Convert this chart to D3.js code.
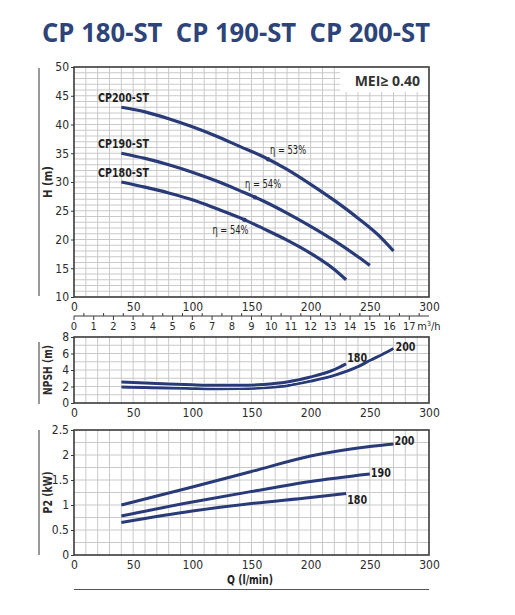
<!DOCTYPE html>
<html>
<head>
<meta charset="utf-8">
<script src="https://cdn.jsdelivr.net/npm/d3@7"></script>
<style>
  body { margin: 0; background: #fff; }
  text { font-family: "Liberation Sans Narrow", "DejaVu Sans Condensed", "DejaVu Sans", sans-serif; font-stretch: condensed; }
</style>
</head>
<body>
<div id="chart"></div>
<script>
'use strict'

// Data.
const qTicks = [0, 50, 100, 150, 200, 250, 300];
const hTicks = [10, 15, 20, 25, 30, 35, 40, 45, 50];
const npshTicks = [0, 2, 4, 6, 8];
const p2Ticks = [0, 0.5, 1, 1.5, 2, 2.5];
const m3hTicks = d3.range(0, 18);

const hQ180 = [40, 60, 80, 100, 120, 140, 160, 180, 200, 220, 230];
const hVal180 = [30.0, 29.1, 28.1, 26.9, 25.4, 23.8, 21.9, 19.9, 17.6, 14.8, 13.0];
const hQ190 = [40, 60, 80, 100, 120, 140, 160, 180, 200, 220, 240, 250];
const hVal190 = [35.0, 34.1, 33.0, 31.7, 30.2, 28.5, 26.7, 24.6, 22.3, 19.8, 17.0, 15.5];
const hQ200 = [40, 60, 80, 100, 120, 140, 160, 180, 200, 220, 240, 260, 270];
const hVal200 = [43.0, 42.2, 41.0, 39.6, 38.0, 36.2, 34.4, 32.2, 29.6, 26.8, 23.7, 20.2, 18.0];

// Efficiency points marked on the curves (180, 190, 200).
const etaLabels = ['η = 54%', 'η = 54%', 'η = 53%'];
const etaQ = [144, 153, 164];

const npshQ180 = [40, 60, 80, 100, 120, 140, 160, 180, 200, 220, 230];
const npshVal180 = [2.55, 2.42, 2.3, 2.2, 2.14, 2.14, 2.25, 2.55, 3.15, 4.05, 4.75];
const npshQ200 = [40, 60, 80, 100, 120, 140, 160, 180, 200, 220, 240, 250, 260, 270];
const npshVal200 = [1.94, 1.88, 1.82, 1.77, 1.74, 1.75, 1.85, 2.1, 2.65, 3.35, 4.4, 5.15, 5.85, 6.6];

const p2Q180 = [40, 100, 150, 200, 230];
const p2Val180 = [0.65, 0.88, 1.03, 1.15, 1.23];
const p2Q190 = [40, 100, 150, 200, 250];
const p2Val190 = [0.78, 1.06, 1.27, 1.47, 1.62];
const p2Q200 = [40, 100, 150, 200, 250, 270];
const p2Val200 = [1.0, 1.36, 1.67, 1.98, 2.17, 2.22];

const models = ['CP200-ST', 'CP190-ST', 'CP180-ST'];
const shortNames = ['180', '190', '200'];

const width = 515, height = 615;
const navy = '#293a78', grid = '#c9c9c9', frame = '#3a3a3a', ink = '#2b2b2b';

const svg = d3.select('#chart').append('svg')
    .attr('width', width)
    .attr('height', height);

// Squeeze a text to a given width when the narrow face is missing.
function fit(sel, w) {
    sel.each(function() {
        if (this.getComputedTextLength() > w) {
            d3.select(this).attr('textLength', w).attr('lengthAdjust', 'spacingAndGlyphs');
        }
    });
}

// Title.
svg.append('text')
    .attr('x', 42).attr('y', 42)
    .attr('textLength', 388).attr('lengthAdjust', 'spacingAndGlyphs')
    .style('font-family', '"Open Sans", sans-serif')
    .style('font-stretch', 'normal')
    .style('font-weight', 700).style('font-size', '26px')
    .attr('fill', '#2e4478')
    .attr('xml:space', 'preserve')
    .text('CP 180-ST  CP 190-ST  CP 200-ST');

const x = d3.scaleLinear().domain([0, 300]).range([74, 429]);
const yH = d3.scaleLinear().domain([10, 50]).range([297, 67]);
const yN = d3.scaleLinear().domain([0, 8]).range([403, 337]);
const yP = d3.scaleLinear().domain([0, 2.5]).range([555, 430]);

// Grid, frame and axis labels for one panel.
function panel(y, hStep, ticks, fmt, title, titleLine, titleW) {
    const g = svg.append('g');
    const [y0, y1] = y.domain();
    g.selectAll('.vg').data(d3.range(10, 300, 10)).join('line')
        .attr('x1', d => x(d)).attr('x2', d => x(d))
        .attr('y1', y.range()[0]).attr('y2', y.range()[1])
        .attr('stroke', grid).attr('stroke-width', 1);
    g.selectAll('.hg').data(d3.range(y0 + hStep, y1 - 1e-9, hStep)).join('line')
        .attr('x1', x(0)).attr('x2', x(300))
        .attr('y1', d => y(d)).attr('y2', d => y(d))
        .attr('stroke', grid).attr('stroke-width', 1);
    g.append('rect')
        .attr('x', x(0)).attr('y', y.range()[1])
        .attr('width', x(300) - x(0)).attr('height', y.range()[0] - y.range()[1])
        .attr('fill', 'none').attr('stroke', frame).attr('stroke-width', 1.6);

    const yAxis = d3.axisLeft(y).tickValues(ticks).tickSize(3).tickPadding(2).tickFormat(fmt);
    g.append('g').attr('transform', `translate(${x(0)},0)`).call(yAxis)
        .call(a => a.select('.domain').remove())
        .call(a => a.selectAll('line').attr('stroke', frame))
        .call(a => a.selectAll('text').attr('fill', ink).style('font-size', '12px')
            .attr('font-family', null));

    const xAxis = d3.axisBottom(x).tickValues(qTicks).tickSize(0).tickPadding(5);
    g.append('g').attr('transform', `translate(0,${y.range()[0]})`).call(xAxis)
        .call(a => a.select('.domain').remove())
        .call(a => a.selectAll('text').attr('fill', ink).style('font-size', '12px')
            .attr('font-family', null));

    const cy = (y.range()[0] + y.range()[1]) / 2;
    g.append('line')
        .attr('x1', 39).attr('x2', 39)
        .attr('y1', titleLine[0]).attr('y2', titleLine[1])
        .attr('stroke', '#555').attr('stroke-width', 1.2);
    g.append('text')
        .attr('transform', `translate(52,${cy}) rotate(-90)`)
        .attr('text-anchor', 'middle')
        .style('font-weight', 700).style('font-size', '12.5px')
        .attr('fill', ink)
        .text(title)
        .call(fit, titleW);
    return g;
}

panel(yH, 1, hTicks, d3.format('d'), 'H (m)', [68, 296], 32);
panel(yN, 1, npshTicks, d3.format('d'), 'NPSH (m)', [342, 404], 50);
panel(yP, 0.25, p2Ticks, d => d, 'P2 (kW)', [430, 555], 42);

// m3/h secondary axis.
const xm = d3.scaleLinear().domain([0, 18]).range([x(0), x(300)]);
const mAxis = svg.append('g').attr('transform', 'translate(0,316)');
mAxis.append('line').attr('x1', x(0)).attr('x2', x(300)).attr('stroke', frame).attr('stroke-width', 1.2);
mAxis.selectAll('.minor').data(d3.range(0, 17.6, 0.5)).join('line')
    .attr('x1', d => xm(d)).attr('x2', d => xm(d))
    .attr('y1', 0).attr('y2', d => Number.isInteger(d) ? 4 : -3)
    .attr('stroke', frame).attr('stroke-width', 1);
mAxis.selectAll('.lab').data(m3hTicks).join('text')
    .attr('x', d => xm(d)).attr('y', 14)
    .attr('text-anchor', 'middle')
    .style('font-size', '11px').attr('fill', ink)
    .text(d => d);
mAxis.append('text')
    .attr('x', xm(17) + 8).attr('y', 14)
    .style('font-size', '11px').attr('fill', ink)
    .html('m<tspan dy="-4" font-size="7px">3</tspan><tspan dy="4">/h</tspan>');

// MEI box.
svg.append('rect').attr('x', 340).attr('y', 68).attr('width', 88).attr('height', 24).attr('fill', '#fff');
svg.append('text')
    .attr('x', 420).attr('y', 86).attr('text-anchor', 'end')
    .style('font-family', '"Open Sans", sans-serif').style('font-stretch', 'normal')
    .style('font-weight', 700).style('font-size', '14px')
    .attr('fill', '#333')
    .text('MEI≥ 0.40');

const line = (y) => d3.line().x(d => x(d[0])).y(d => y(d[1])).curve(d3.curveMonotoneX);
const zip = (a, b) => a.map((q, i) => [q, b[i]]);

// H curves.
const hSeries = [zip(hQ200, hVal200), zip(hQ190, hVal190), zip(hQ180, hVal180)];
svg.append('g').selectAll('path').data(hSeries).join('path')
    .attr('d', line(yH))
    .attr('fill', 'none').attr('stroke', navy).attr('stroke-width', 3.2);

svg.append('g').selectAll('text').data(models).join('text')
    .attr('x', 98).attr('y', (d, i) => yH(hSeries[i][0][1]) - 5)
    .style('font-weight', 700).style('font-size', '13px')
    .attr('fill', '#1e1e1e')
    .text(d => d)
    .call(fit, 51);

// Efficiency markers and labels.
const hRev = [hSeries[2], hSeries[1], hSeries[0]];
const etaY = etaQ.map((q, i) => {
    const s = hRev[i];
    const j = s.findIndex(p => p[0] > q);
    const a = s[j - 1], b = s[j];
    return a[1] + (b[1] - a[1]) * (q - a[0]) / (b[0] - a[0]);
});
svg.append('g').selectAll('circle').data(etaQ).join('circle')
    .attr('cx', d => x(d)).attr('cy', (d, i) => yH(etaY[i]))
    .attr('r', 2.2).attr('fill', navy);
const etaOff = [[-32, 14], [-10, -9], [2, -5]];
svg.append('g').selectAll('text').data(etaLabels).join('text')
    .attr('x', (d, i) => x(etaQ[i]) + etaOff[i][0])
    .attr('y', (d, i) => yH(etaY[i]) + etaOff[i][1])
    .style('font-size', '12px')
    .attr('fill', '#222')
    .text(d => d)
    .call(fit, 36);

// NPSH curves with a white edge so they read apart.
const nSeries = [zip(npshQ200, npshVal200), zip(npshQ180, npshVal180)];
const nG = svg.append('g');
nSeries.forEach(s => {
    nG.append('path').attr('d', line(yN)(s))
        .attr('fill', 'none').attr('stroke', '#fff').attr('stroke-width', 4.6);
    nG.append('path').attr('d', line(yN)(s))
        .attr('fill', 'none').attr('stroke', navy).attr('stroke-width', 3);
});
svg.append('text').attr('x', x(230) + 1).attr('y', yN(4.75) - 2)
    .style('font-weight', 700).style('font-size', '13px').attr('fill', '#1e1e1e').text('180')
    .call(fit, 20);
svg.append('text').attr('x', x(270) + 2).attr('y', yN(6.6) + 2)
    .style('font-weight', 700).style('font-size', '13px').attr('fill', '#1e1e1e').text('200')
    .call(fit, 20);

// P2 curves.
const pSeries = [zip(p2Q180, p2Val180), zip(p2Q190, p2Val190), zip(p2Q200, p2Val200)];
svg.append('g').selectAll('path').data(pSeries).join('path')
    .attr('d', line(yP))
    .attr('fill', 'none').attr('stroke', navy).attr('stroke-width', 3);
svg.append('g').selectAll('text').data(shortNames).join('text')
    .attr('x', (d, i) => x(pSeries[i][pSeries[i].length - 1][0]) + 1)
    .attr('y', (d, i) => yP(pSeries[i][pSeries[i].length - 1][1]) + [10, 3, 1][i])
    .style('font-weight', 700).style('font-size', '13px').attr('fill', '#1e1e1e')
    .text(d => d)
    .call(fit, 20);

// Q axis title with rule.
svg.append('text').attr('x', 250).attr('y', 584).attr('text-anchor', 'middle')
    .style('font-weight', 700).style('font-size', '13px').attr('fill', '#1e1e1e')
    .text('Q (l/min)')
    .call(fit, 46);
svg.append('line').attr('x1', x(0)).attr('x2', x(300)).attr('y1', 589.5).attr('y2', 589.5)
    .attr('stroke', '#555').attr('stroke-width', 1.2);
</script>
</body>
</html>
